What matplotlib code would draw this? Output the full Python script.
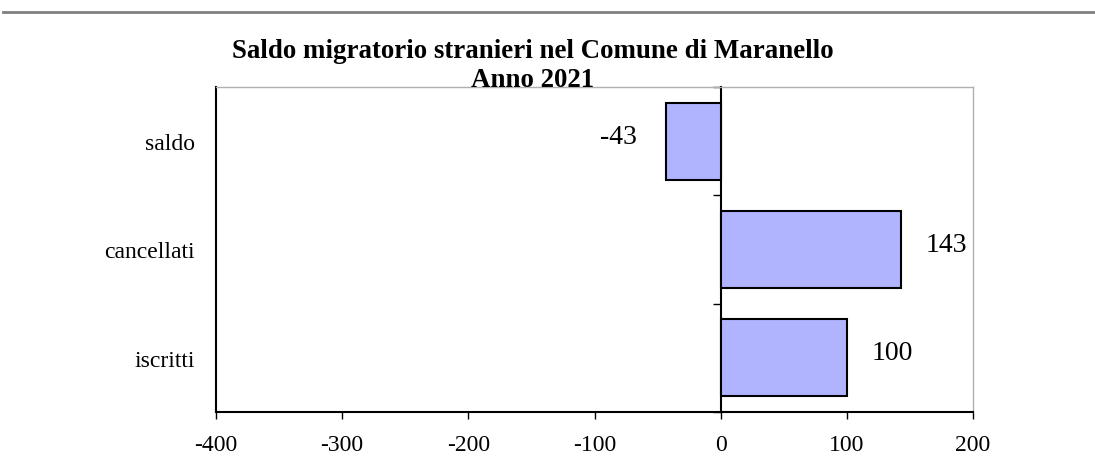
import matplotlib
matplotlib.use("Agg")
import matplotlib.pyplot as plt
from matplotlib.lines import Line2D

categories = ["iscritti", "cancellati", "saldo"]
values = [100, 143, -43]
xticks = [-400, -300, -200, -100, 0, 100, 200]
title_lines = ["Saldo migratorio stranieri nel Comune di Maranello", "Anno 2021"]

plt.rcParams['font.family'] = ['Liberation Serif', 'DejaVu Serif']

fig = plt.figure(figsize=(10.95, 4.6), dpi=100)
ax = fig.add_axes([216/1095, 1-413/460, (973-216)/1095, (413-88)/460])

ypos = list(range(len(categories)))
bars = ax.barh(ypos, values, height=0.71, color='#B0B4FF', edgecolor='black', linewidth=1.5, zorder=3)

ax.set_xlim(xticks[0], xticks[-1])
ax.set_ylim(-0.5, len(categories) - 0.5)
ax.set_xticks(xticks)
ax.set_xticklabels([str(v) for v in xticks], fontsize=17)
ax.tick_params(axis='x', direction='out', length=5, width=1, pad=11, color='black')
ax.set_yticks(ypos)
ax.set_yticklabels(categories, fontsize=17)
ax.tick_params(axis='y', length=0, pad=15)

for side in ['top', 'right']:
    ax.spines[side].set_color('#b0b0b0')
    ax.spines[side].set_linewidth(1)
for side in ['left', 'bottom']:
    ax.spines[side].set_color('black')
    ax.spines[side].set_linewidth(1.5)

# zero axis with category-boundary ticks
sec = ax.secondary_yaxis(0, transform=ax.transData)
sec.set_yticks([i - 0.5 for i in range(len(categories) + 1)])
sec.set_yticklabels([])
sec.tick_params(axis='y', direction='out', length=6, width=1, color='black')
sec.spines['left'].set_linewidth(1.5)
sec.spines['left'].set_color('black')

for b, v in zip(bars, values):
    yc = b.get_y() + b.get_height() / 2
    if v >= 0:
        ax.annotate(str(v), (v, yc), xytext=(17.5, 3.5), textcoords='offset points',
                    ha='left', va='center', fontsize=20)
    else:
        ax.annotate(str(v), (v, yc), xytext=(-21, 3.5), textcoords='offset points',
                    ha='right', va='center', fontsize=20)

for line, ybase in zip(title_lines, [58, 87]):
    fig.text(533/1095, 1-ybase/460, line, ha='center', va='baseline', fontsize=19.4,
             fontweight='bold')

fig.add_artist(Line2D([3/1095, 1], [1-13/460, 1-13/460], color='#808080', linewidth=2,
                      transform=fig.transFigure))

fig.savefig("out.png", dpi=100)
